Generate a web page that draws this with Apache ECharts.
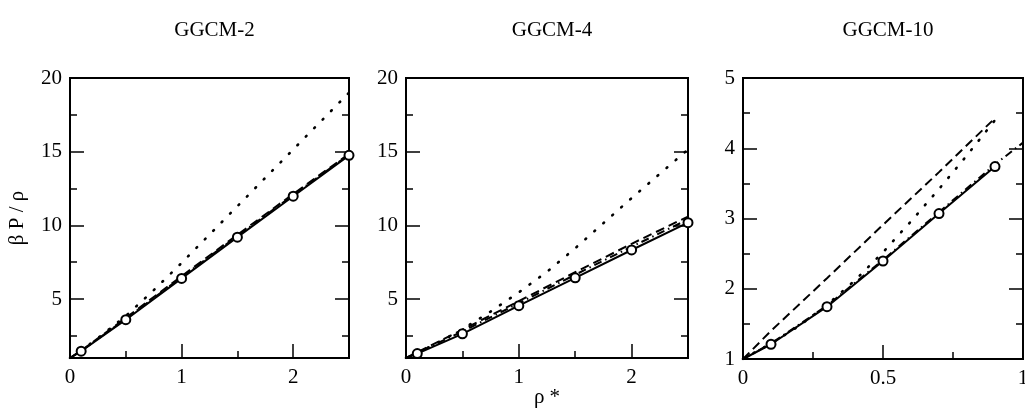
<!DOCTYPE html>
<html>
<head>
<meta charset="utf-8">
<title>GGCM</title>
<script src="https://cdn.jsdelivr.net/npm/echarts@6/dist/echarts.min.js"></script>
<style>
html, body { margin: 0; padding: 0; background: #fff; }
#main { width: 1025px; height: 409px; }
</style>
</head>
<body>
<div id="main"></div>
<script>
var panelTitles = ['GGCM-2', 'GGCM-4', 'GGCM-10'];
var yName = 'β P / ρ';
var xName = 'ρ *';

// tick values
var xMajorA = [0, 1, 2];
var xMinorA = [0.5, 1.5];
var yMajorA = [5, 10, 15, 20];
var yMinorA = [2.5, 7.5, 12.5, 17.5];
var xMajorB = [0, 0.5, 1];
var xMinorB = [0.25, 0.75];
var yMajorB = [1, 2, 3, 4, 5];
var yMinorB = [1.5, 2.5, 3.5, 4.5];

// GGCM-2
var rho2 = [0, 0.1, 0.5, 1, 1.5, 2, 2.5];
var solid2 = [1, 1.46, 3.6, 6.4, 9.2, 11.98, 14.75];
var dashed2 = [1, 1.5, 3.72, 6.55, 9.36, 12.13, 14.85];
var dashdot2 = [1, 1.48, 3.66, 6.48, 9.28, 12.06, 14.8];
var rhoDot2 = [0, 0.1, 0.25, 0.5, 0.75, 1, 1.5, 2, 2.5];
var dotted2 = [1, 1.5, 2.35, 3.85, 5.6, 7.45, 11.3, 15.15, 19.0];
var simRho2 = [0.1, 0.5, 1, 1.5, 2, 2.5];
var sim2 = [1.46, 3.6, 6.4, 9.2, 11.98, 14.75];

// GGCM-4
var rho4 = [0, 0.1, 0.5, 1, 1.5, 2, 2.5];
var solid4 = [1, 1.3, 2.64, 4.55, 6.44, 8.33, 10.18];
var dashed4 = [1, 1.4, 2.92, 4.86, 6.82, 8.75, 10.6];
var dashdot4 = [1, 1.36, 2.8, 4.72, 6.65, 8.55, 10.4];
var rhoDot4 = [0, 0.25, 0.5, 0.75, 1, 1.25, 1.5, 1.75, 2, 2.25, 2.5];
var dotted4 = [1, 1.9, 2.95, 4.15, 5.45, 6.85, 8.45, 10.15, 11.85, 13.5, 15.15];
var simRho4 = [0.1, 0.5, 1, 1.5, 2, 2.5];
var sim4 = [1.3, 2.64, 4.55, 6.44, 8.33, 10.18];

// GGCM-10
var rho10 = [0, 0.1, 0.3, 0.5, 0.7, 0.9];
var solid10 = [1, 1.21, 1.745, 2.395, 3.07, 3.74];
var rhoDash10 = [0, 0.1, 0.3, 0.5, 0.7, 0.89];
var dashed10 = [1, 1.4, 2.15, 2.91, 3.66, 4.39];
var rhoDd10 = [0, 0.1, 0.3, 0.5, 0.7, 0.9, 1.0];
var dashdot10 = [1, 1.22, 1.76, 2.41, 3.09, 3.77, 4.08];
var rhoDot10 = [0, 0.1, 0.2, 0.3, 0.4, 0.5, 0.6, 0.7, 0.8, 0.9];
var dotted10 = [1, 1.22, 1.47, 1.77, 2.12, 2.52, 2.96, 3.42, 3.9, 4.4];
var simRho10 = [0.1, 0.3, 0.5, 0.7, 0.9];
var sim10 = [1.21, 1.745, 2.395, 3.07, 3.74];

var FONT = 'Liberation Serif';
var FONT_SIZE = 21;
var MAJOR_LEN = 14;
var MINOR_LEN = 7;

function zip(xs, ys) {
    var out = [];
    for (var i = 0; i < xs.length; i++) {
        out.push([xs[i], ys[i]]);
    }
    return out;
}

var panels = [{
    grid: { left: 70, top: 78, width: 279, height: 280 },
    xMax: 2.5, yMin: 1, yMax: 20,
    xMajor: xMajorA, xMinor: xMinorA, yMajor: yMajorA, yMinor: yMinorA,
    solid: zip(rho2, solid2), dashed: zip(rho2, dashed2), dashdot: zip(rho2, dashdot2),
    dotted: zip(rhoDot2, dotted2), sim: zip(simRho2, sim2)
}, {
    grid: { left: 406, top: 78, width: 282, height: 280 },
    xMax: 2.5, yMin: 1, yMax: 20,
    xMajor: xMajorA, xMinor: xMinorA, yMajor: yMajorA, yMinor: yMinorA,
    solid: zip(rho4, solid4), dashed: zip(rho4, dashed4), dashdot: zip(rho4, dashdot4),
    dotted: zip(rhoDot4, dotted4), sim: zip(simRho4, sim4)
}, {
    grid: { left: 743, top: 78, width: 280, height: 281 },
    xMax: 1, yMin: 1, yMax: 5,
    xMajor: xMajorB, xMinor: xMinorB, yMajor: yMajorB, yMinor: yMinorB,
    solid: zip(rho10, solid10), dashed: zip(rhoDash10, dashed10), dashdot: zip(rhoDd10, dashdot10),
    dotted: zip(rhoDot10, dotted10), sim: zip(simRho10, sim10)
}];

function tickAxis(gridIndex, min, max, ticks, len, labels, pos) {
    return {
        type: 'value',
        gridIndex: gridIndex,
        position: pos,
        min: min,
        max: max,
        splitLine: { show: false },
        axisLine: { show: false },
        axisTick: {
            show: true, inside: true, length: len, customValues: ticks,
            lineStyle: { color: '#000', width: 1.5 }
        },
        axisLabel: {
            show: labels, customValues: ticks, color: '#000',
            fontFamily: FONT, fontSize: FONT_SIZE, margin: pos === 'bottom' ? 9 : 8
        }
    };
}

var option = {
    backgroundColor: '#fff',
    animation: false,
    title: [],
    grid: [],
    xAxis: [],
    yAxis: [],
    series: []
};

for (var p = 0; p < panels.length; p++) {
    var pn = panels[p];
    var g = pn.grid;
    option.grid.push({
        left: g.left, top: g.top, width: g.width, height: g.height,
        outerBoundsMode: 'none', containLabel: false,
        show: true, borderColor: '#000', borderWidth: 2, backgroundColor: 'transparent'
    });
    option.title.push({
        text: panelTitles[p],
        left: g.left + g.width / 2,
        top: 15,
        textAlign: 'center',
        textStyle: { fontFamily: FONT, fontSize: FONT_SIZE, fontWeight: 'normal', color: '#000' }
    });

    var xi = option.xAxis.length;
    var xMain = tickAxis(p, 0, pn.xMax, pn.xMajor, MAJOR_LEN, true, 'bottom');
    if (p === 1) {
        xMain.name = xName;
        xMain.nameLocation = 'middle';
        xMain.nameGap = 29;
        xMain.nameMoveOverlap = false;
        xMain.nameTextStyle = { fontFamily: FONT, fontSize: FONT_SIZE, color: '#000' };
    }
    option.xAxis.push(xMain);
    option.xAxis.push(tickAxis(p, 0, pn.xMax, pn.xMinor, MINOR_LEN, false, 'bottom'));

    var yi = option.yAxis.length;
    var yMain = tickAxis(p, pn.yMin, pn.yMax, pn.yMajor, MAJOR_LEN, true, 'left');
    if (p === 0) {
        yMain.name = yName;
        yMain.nameLocation = 'middle';
        yMain.nameGap = 42;
        yMain.nameMoveOverlap = false;
        yMain.nameTextStyle = { fontFamily: FONT, fontSize: FONT_SIZE, color: '#000' };
    }
    option.yAxis.push(yMain);
    option.yAxis.push(tickAxis(p, pn.yMin, pn.yMax, pn.yMinor, MINOR_LEN, false, 'left'));
    option.yAxis.push(tickAxis(p, pn.yMin, pn.yMax, pn.yMajor, MAJOR_LEN, false, 'right'));
    option.yAxis.push(tickAxis(p, pn.yMin, pn.yMax, pn.yMinor, MINOR_LEN, false, 'right'));

    var lines = [
        { data: pn.dotted, type: [1, 11], width: 2.6, cap: 'round' },
        { data: pn.dashed, type: [9, 5], width: 2, cap: 'butt' },
        { data: pn.dashdot, type: [8, 4, 1.5, 4], width: 2, cap: 'butt' },
        { data: pn.solid, type: 'solid', width: 2, cap: 'butt' }
    ];
    for (var k = 0; k < lines.length; k++) {
        option.series.push({
            type: 'line',
            xAxisIndex: xi,
            yAxisIndex: yi,
            data: lines[k].data,
            showSymbol: false,
            smooth: false,
            lineStyle: { color: '#000', width: lines[k].width, type: lines[k].type, cap: lines[k].cap }
        });
    }
    option.series.push({
        type: 'scatter',
        xAxisIndex: xi,
        yAxisIndex: yi,
        data: pn.sim,
        symbol: 'circle',
        symbolSize: 9,
        z: 5,
        itemStyle: { color: '#fff', borderColor: '#000', borderWidth: 2, opacity: 1 }
    });
}

var chart = echarts.init(document.getElementById('main'));
chart.setOption(option);
</script>
</body>
</html>
